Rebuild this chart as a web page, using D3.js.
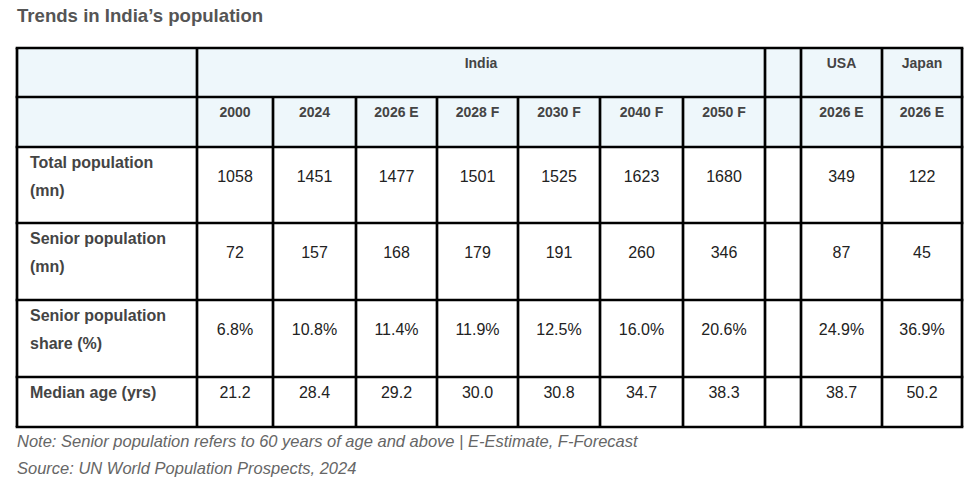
<!DOCTYPE html>
<html><head><meta charset="utf-8">
<script src="https://cdn.jsdelivr.net/npm/d3@7"></script>
<style>
html,body{margin:0;padding:0;background:#fff;}
svg{display:block;font-family:"Liberation Sans",Arial,sans-serif;}
</style></head>
<body>
<svg id="chart" width="972" height="491"></svg>
<script>
// ---- data ----
const title = "Trends in India\u2019s population";
const groupLabels = ["India", "USA", "Japan"];
const indiaYears = ["2000", "2024", "2026 E", "2028 F", "2030 F", "2040 F", "2050 F"];
const otherYears = ["2026 E", "2026 E"];
const rowLabels = [["Total population", "(mn)"], ["Senior population", "(mn)"], ["Senior population", "share (%)"], ["Median age (yrs)"]];
const totalPopulation = [1058, 1451, 1477, 1501, 1525, 1623, 1680, 349, 122];
const seniorPopulation = [72, 157, 168, 179, 191, 260, 346, 87, 45];
const seniorShare = [6.8, 10.8, 11.4, 11.9, 12.5, 16.0, 20.6, 24.9, 36.9];
const medianAge = [21.2, 28.4, 29.2, 30.0, 30.8, 34.7, 38.3, 38.7, 50.2];
const note = "Note: Senior population refers to 60 years of age and above | E-Estimate, F-Forecast";
const source = "Source: UN World Population Prospects, 2024";

// ---- layout ----
const svg = d3.select("#chart");
const colKeys = ["label", ...indiaYears.map((d, i) => "in" + i), "gap", "usa", "jp"];
const colWidths = [180, 76, 83, 81, 81, 82, 83, 82, 36, 81, 80];
const x0 = 17, y0 = 48;
const colEdges = [x0];
colWidths.forEach(w => colEdges.push(colEdges[colEdges.length - 1] + w));
const xCol = d3.scaleOrdinal().domain(colKeys).range(colEdges.slice(0, -1));
const wCol = d3.scaleOrdinal().domain(colKeys).range(colWidths);
const rowHeights = [49, 50, 76, 77, 77, 50];
const rowEdges = [y0];
rowHeights.forEach(h => rowEdges.push(rowEdges[rowEdges.length - 1] + h));
const xRight = colEdges[colEdges.length - 1];
const yBottom = rowEdges[rowEdges.length - 1];

const fmtInt = d3.format("d"), fmt1 = d3.format(".1f");
const dataRows = [
  {label: rowLabels[0], values: totalPopulation, f: fmtInt},
  {label: rowLabels[1], values: seniorPopulation, f: fmtInt},
  {label: rowLabels[2], values: seniorShare, f: v => fmt1(v) + "%"},
  {label: rowLabels[3], values: medianAge, f: fmt1}
];
const valueCols = [...indiaYears.map((d, i) => "in" + i), "usa", "jp"];

// title
svg.append("text").attr("x", x0).attr("y", 22)
  .attr("font-size", 18.6).attr("font-weight", "bold").attr("fill", "#555")
  .text(title);

// header backgrounds
svg.append("rect").attr("x", x0).attr("y", rowEdges[0])
  .attr("width", xRight - x0).attr("height", rowEdges[2] - rowEdges[0])
  .attr("fill", "#eef7fb");

const lineH = 28, padTop = 15.5;
const headerFont = {size: 14, weight: "bold", fill: "#444"};

// header row 1
const hdr1 = [
  {text: groupLabels[0], x: xCol("in0"), w: d3.sum(colWidths.slice(1, 8))},
  {text: groupLabels[1], x: xCol("usa"), w: wCol("usa")},
  {text: groupLabels[2], x: xCol("jp"), w: wCol("jp")}
];
svg.append("g").selectAll("text").data(hdr1).join("text")
  .attr("x", d => d.x + d.w / 2).attr("y", rowEdges[0] + padTop)
  .attr("dy", "0.35em").attr("text-anchor", "middle")
  .attr("font-size", headerFont.size).attr("font-weight", headerFont.weight).attr("fill", headerFont.fill)
  .text(d => d.text);

// header row 2
const hdr2 = [...indiaYears, ...otherYears].map((t, i) => ({text: t, key: valueCols[i]}));
svg.append("g").selectAll("text").data(hdr2).join("text")
  .attr("x", d => xCol(d.key) + wCol(d.key) / 2).attr("y", rowEdges[1] + padTop)
  .attr("dy", "0.35em").attr("text-anchor", "middle")
  .attr("font-size", headerFont.size).attr("font-weight", headerFont.weight).attr("fill", headerFont.fill)
  .text(d => d.text);

// data rows
dataRows.forEach((row, ri) => {
  const top = rowEdges[ri + 2];
  const n = row.label.length;
  const g = svg.append("g");
  g.selectAll("text.lab").data(row.label).join("text").attr("class", "lab")
    .attr("x", x0 + 13).attr("y", (d, i) => top + padTop + i * lineH)
    .attr("dy", "0.35em").attr("font-size", 16).attr("font-weight", "bold").attr("fill", "#444")
    .text(d => d);
  g.selectAll("text.val").data(row.values).join("text").attr("class", "val")
    .attr("x", (d, i) => xCol(valueCols[i]) + wCol(valueCols[i]) / 2)
    .attr("y", top + padTop + (n - 1) * lineH / 2)
    .attr("dy", "0.35em").attr("text-anchor", "middle")
    .attr("font-size", 16).attr("fill", "#222")
    .text(d => row.f(d));
});

// grid lines
const sw = 2.7;
const grid = svg.append("g").attr("stroke", "#000").attr("stroke-width", sw).attr("fill", "none");
rowEdges.forEach(y => grid.append("line").attr("x1", x0 - sw / 2).attr("x2", xRight + sw / 2).attr("y1", y).attr("y2", y));
colEdges.forEach((x, ci) => {
  // in header row 1, the India span has no interior lines
  const interiorIndia = ci >= 2 && ci <= 7;
  grid.append("line").attr("x1", x).attr("x2", x)
    .attr("y1", interiorIndia ? rowEdges[1] : rowEdges[0]).attr("y2", yBottom);
});

// footnotes
svg.append("text").attr("x", x0).attr("y", 441).attr("dy", "0.35em")
  .attr("font-size", 16.5).attr("font-style", "italic").attr("fill", "#666").text(note);
svg.append("text").attr("x", x0).attr("y", 468).attr("dy", "0.35em")
  .attr("font-size", 16.5).attr("font-style", "italic").attr("fill", "#666").text(source);
</script>
</body></html>
